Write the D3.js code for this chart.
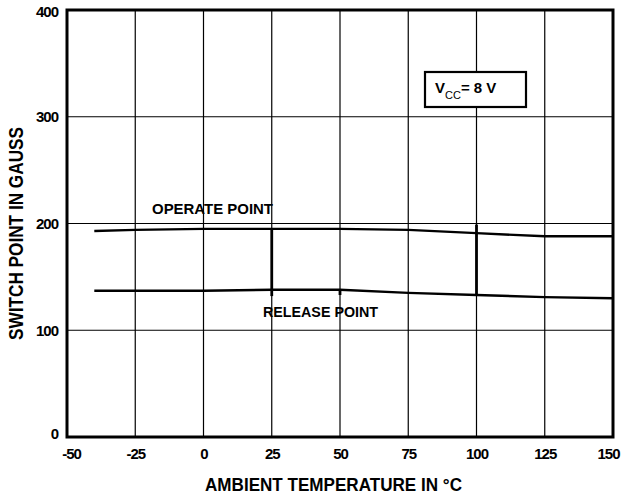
<!DOCTYPE html>
<html><head><meta charset="utf-8">
<script src="https://cdn.jsdelivr.net/npm/d3@7"></script>
<style>body{margin:0;background:#fff}svg{display:block}text{font-family:"Liberation Sans",Arial,sans-serif;font-weight:bold;fill:#000}</style>
</head><body>
<script>
const temps = [-40, -25, 0, 25, 50, 75, 100, 125, 150];
const operate = [193, 194, 195, 195, 195, 194, 191, 188, 188];
const release = [137, 137, 137, 138, 138, 135, 133, 131, 130];
const xTicks = [-50, -25, 0, 25, 50, 75, 100, 125, 150];
const yTicks = [0, 100, 200, 300, 400];
// heavy vertical strokes: [temperature, upper gauss, lower gauss]
const heavySegs = [[25, 195, 132], [50, 138, 133], [100, 199, 133]];

const W = 631, H = 498;
const m = {l: 67, r: 18, t: 10, b: 61};
const svg = d3.select("body").append("svg").attr("width", W).attr("height", H);
const x = d3.scaleLinear().domain([-50, 150]).range([m.l, W - m.r]);
const y = d3.scaleLinear().domain([0, 400]).range([H - m.b, m.t]);
const FF = '"Liberation Sans",Arial,sans-serif';

const g = svg.append("g");
g.selectAll(".vg").data(xTicks.slice(1, -1)).join("line")
  .attr("x1", d => x(d)).attr("x2", d => x(d)).attr("y1", y(0)).attr("y2", y(400))
  .attr("stroke", "#000").attr("stroke-width", 1.2);
g.selectAll(".hg").data(yTicks.slice(1, -1)).join("line")
  .attr("x1", x(-50)).attr("x2", x(150)).attr("y1", d => y(d)).attr("y2", d => y(d))
  .attr("stroke", "#000").attr("stroke-width", 1.2);
g.selectAll(".hv").data(heavySegs).join("line")
  .attr("x1", d => x(d[0])).attr("x2", d => x(d[0]))
  .attr("y1", d => y(d[1])).attr("y2", d => y(d[2]))
  .attr("stroke", "#000").attr("stroke-width", 2.8);
g.append("rect").attr("x", x(-50)).attr("y", y(400)).attr("width", x(150) - x(-50)).attr("height", y(0) - y(400))
  .attr("fill", "none").attr("stroke", "#000").attr("stroke-width", 3);

const line = d3.line().x(d => x(d[0])).y(d => y(d[1]));
[operate, release].forEach(s => {
  g.append("path").attr("d", line(temps.map((t, i) => [t, s[i]])))
    .attr("fill", "none").attr("stroke", "#000").attr("stroke-width", 2.4);
});

const xAxis = d3.axisBottom(x).tickValues(xTicks).tickFormat(d => String(d)).tickSize(0).tickPadding(11);
const xa = svg.append("g").attr("transform", `translate(0,${y(0)})`).call(xAxis);
xa.select(".domain").remove();
xa.selectAll("text").attr("font-size", 15).attr("letter-spacing", -1).style("font-family", FF).style("font-weight", "bold");
xa.selectAll("text").filter(d => d === -50).attr("dx", 4);
xa.selectAll("text").filter(d => d === 150).attr("dx", -5);

const yAxis = d3.axisLeft(y).tickValues(yTicks).tickFormat(d => String(d)).tickSize(0).tickPadding(9);
const ya = svg.append("g").attr("transform", `translate(${x(-50)},0)`).call(yAxis);
ya.select(".domain").remove();
ya.selectAll("text").attr("font-size", 15).attr("letter-spacing", -1).style("font-family", FF).style("font-weight", "bold");
ya.selectAll("text").filter(d => d === 0).attr("dy", "0.1em");
ya.selectAll("text").filter(d => d === 400).attr("dy", "0.45em");

svg.append("text").attr("x", 205).attr("y", 491)
  .attr("font-size", 19).attr("textLength", 257).attr("lengthAdjust", "spacingAndGlyphs").text("AMBIENT TEMPERATURE IN °C");
svg.append("text").attr("transform", "translate(23,340) rotate(-90)")
  .attr("font-size", 20).attr("textLength", 213).attr("lengthAdjust", "spacingAndGlyphs").text("SWITCH POINT IN GAUSS");

svg.append("text").attr("x", 152).attr("y", 214).attr("font-size", 15)
  .attr("textLength", 121).attr("lengthAdjust", "spacingAndGlyphs").text("OPERATE POINT");
svg.append("text").attr("x", 263).attr("y", 317).attr("font-size", 14)
  .attr("textLength", 115).attr("lengthAdjust", "spacingAndGlyphs").text("RELEASE POINT");

const bx = 425, by = 72;
svg.append("rect").attr("x", bx).attr("y", by).attr("width", 101).attr("height", 35)
  .attr("fill", "#fff").attr("stroke", "#000").attr("stroke-width", 2.2);
const t = svg.append("text").attr("x", 435).attr("y", 93).attr("font-size", 15);
t.append("tspan").text("V");
t.append("tspan").attr("font-size", 11).attr("dy", 6).attr("font-weight", "normal").text("CC");
t.append("tspan").attr("dy", -6).text("= 8 V");
</script>
</body></html>
